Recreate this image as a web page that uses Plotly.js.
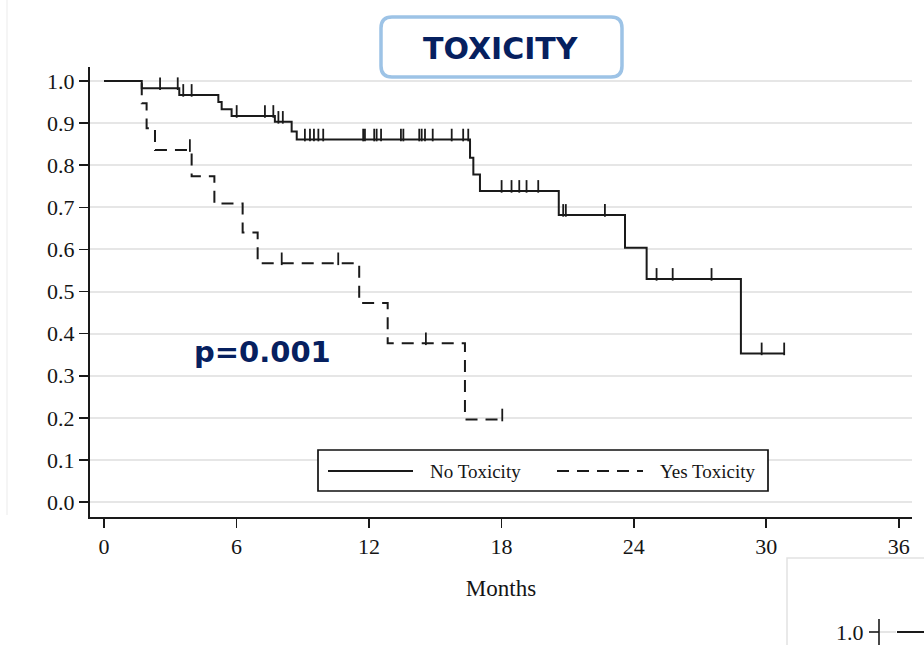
<!DOCTYPE html>
<html><head><meta charset="utf-8">
<script src="https://cdn.plot.ly/plotly-3.0.1.min.js"></script>
<style>html,body{margin:0;padding:0;background:#fff}#chart{width:924px;height:645px}</style>
</head><body><div id="chart"></div>
<script>
// ---------- DATA ----------
const noToxTimes = [0, 1.71, 3.41, 5.18, 5.33, 5.78, 7.74, 8.50, 8.73, 16.58, 16.73, 17.03, 20.60, 23.60, 24.58, 28.85];
const noToxSurv  = [1.0, 0.983, 0.967, 0.950, 0.933, 0.917, 0.903, 0.880, 0.861, 0.818, 0.778, 0.739, 0.682, 0.604, 0.530, 0.353];
const noToxEnd = 30.81;
const noToxCensor = [2.54, 3.34, 3.59, 3.97, 6.01, 7.29, 7.67, 7.90, 8.10, 9.10, 9.33, 9.51, 9.71, 9.93,
  11.74, 11.82, 12.24, 12.35, 12.55, 13.45, 13.56, 14.28, 14.39, 14.54, 14.89, 15.75, 16.27, 16.50,
  18.01, 18.46, 18.81, 19.14, 19.67, 20.80, 20.92, 22.69, 25.03, 25.76, 27.52, 29.79, 30.81];

const yesToxTimes = [0, 1.71, 1.93, 2.31, 3.97, 5.00, 6.28, 6.96, 11.56, 12.85, 16.35];
const yesToxSurv  = [1.0, 0.947, 0.888, 0.836, 0.774, 0.709, 0.640, 0.567, 0.473, 0.377, 0.196];
const yesToxEnd = 18.04;
const yesToxCensor = [3.89, 8.05, 10.61, 14.58, 18.04];

const xTickVals = [0, 6, 12, 18, 24, 30, 36];
const yTickVals = [0.0, 0.1, 0.2, 0.3, 0.4, 0.5, 0.6, 0.7, 0.8, 0.9, 1.0];
const seriesNames = ['No Toxicity', 'Yes Toxicity'];
const titleText = 'TOXICITY';
const pValueText = 'p=0.001';
const xAxisTitle = 'Months';
const fragmentLabel = '1.0';

// ---------- GEOMETRY ----------
const W = 924, H = 645, L = 90, R = 12, T = 67, B = 128;
const pw = W - L - R, ph = H - T - B;
const X = px => (px - L) / pw;
const Y = py => (H - B - py) / ph;
const xRange = [-0.634, 36.6];
const yRange = [-0.0356, 1.0333];
const halfTick = 4.5 * (yRange[1] - yRange[0]) / ph;

const ink = '#1a1a1a';
const txt = '#151515';
const navy = '#06205f';
const serif = 'Liberation Serif, Times New Roman, serif';

function survAt(times, surv, t) {
  let s = surv[0];
  for (let i = 0; i < times.length; i++) if (times[i] <= t) s = surv[i];
  return s;
}
function stepTrace(times, surv, end, name, dash) {
  return {
    type: 'scatter', mode: 'lines', name: name,
    x: times.concat([end]), y: surv.concat([surv[surv.length - 1]]),
    line: {shape: 'hv', color: ink, width: 2, dash: dash},
    hoverinfo: 'skip', showlegend: false
  };
}
function censorTrace(times, surv, cens, name) {
  return {
    type: 'scatter', mode: 'markers', name: name + ' censored',
    x: cens, y: cens.map(t => survAt(times, surv, t) + halfTick),
    marker: {symbol: 'line-ns', size: 9, color: ink, line: {width: 1.8, color: ink}},
    hoverinfo: 'skip', showlegend: false
  };
}

const data = [
  stepTrace(yesToxTimes, yesToxSurv, yesToxEnd, seriesNames[1], '12px,8px'),
  censorTrace(yesToxTimes, yesToxSurv, yesToxCensor, seriesNames[1]),
  stepTrace(noToxTimes, noToxSurv, noToxEnd, seriesNames[0], 'solid'),
  censorTrace(noToxTimes, noToxSurv, noToxCensor, seriesNames[0])
];

// rounded title box path in paper coords
function roundRect(x0, y0, x1, y1, r) {
  const p = (a, b) => X(a).toFixed(5) + ',' + Y(b).toFixed(5);
  return 'M' + p(x0 + r, y0) + ' L' + p(x1 - r, y0) + ' Q' + p(x1, y0) + ' ' + p(x1, y0 + r) +
    ' L' + p(x1, y1 - r) + ' Q' + p(x1, y1) + ' ' + p(x1 - r, y1) +
    ' L' + p(x0 + r, y1) + ' Q' + p(x0, y1) + ' ' + p(x0, y1 - r) +
    ' L' + p(x0, y0 + r) + ' Q' + p(x0, y0) + ' ' + p(x0 + r, y0) + ' Z';
}
const pl = (x0, y0, x1, y1, color, width, dash) => ({
  type: 'line', xref: 'paper', yref: 'paper', x0: X(x0), y0: Y(y0), x1: X(x1), y1: Y(y1),
  line: {color: color, width: width, dash: dash || 'solid'}, layer: 'above'
});

const shapes = [
  // white patch over part of the 0.1 grid line, and hide the 0.0 grid line
  {type: 'rect', xref: 'paper', yref: 'paper', x0: X(127), x1: X(292), y0: Y(490), y1: Y(447),
   fillcolor: '#fff', line: {width: 0}, layer: 'between'},
  {type: 'line', xref: 'paper', yref: 'y', x0: 0.005, x1: 1, y0: 0, y1: 0,
   line: {color: '#fff', width: 3}, layer: 'between'},
  // legend
  {type: 'rect', xref: 'paper', yref: 'paper', x0: X(318), x1: X(768), y0: Y(491), y1: Y(450),
   fillcolor: '#fff', line: {color: '#111', width: 1.7}, layer: 'above'},
  pl(328, 471, 413, 471, ink, 2),
  pl(557, 471, 643, 471, ink, 2, '12px,8px'),
  // title box
  {type: 'path', xref: 'paper', yref: 'paper', path: roundRect(381, 17, 622, 77, 11),
   fillcolor: '#fff', line: {color: '#9dc3e6', width: 3.5}, layer: 'above'},
  // faint outer frame at left
  pl(7, 0, 7, 515, '#eeeeee', 1.2),
  // fragment of another panel, bottom right
  {type: 'rect', xref: 'paper', yref: 'paper', x0: X(787), x1: X(940), y0: Y(660), y1: Y(558),
   fillcolor: 'rgba(0,0,0,0)', line: {color: '#e2e2e2', width: 1.5}, layer: 'above'},
  pl(879, 619, 879, 650, ink, 1.6),
  pl(869, 632, 879, 632, ink, 1.6),
  pl(880, 632, 896, 632, '#dddddd', 1.5),
  pl(897, 632, 930, 632, ink, 2)
];

const annotations = [
  {xref: 'paper', yref: 'paper', x: X(501), y: Y(48), text: titleText, showarrow: false,
   xanchor: 'center', yanchor: 'middle',
   font: {family: 'DejaVu Sans, Verdana, sans-serif', size: 30, color: navy, weight: 700}},
  {xref: 'paper', yref: 'paper', x: X(192), y: Y(352), text: pValueText, showarrow: false,
   xanchor: 'left', yanchor: 'middle',
   font: {family: 'DejaVu Sans, Verdana, sans-serif', size: 29, color: navy, weight: 700}},
  {xref: 'paper', yref: 'paper', x: X(428), y: Y(471), text: seriesNames[0], showarrow: false,
   xanchor: 'left', yanchor: 'middle', font: {family: serif, size: 19, color: txt}},
  {xref: 'paper', yref: 'paper', x: X(658), y: Y(471), text: seriesNames[1], showarrow: false,
   xanchor: 'left', yanchor: 'middle', font: {family: serif, size: 19, color: txt}},
  {xref: 'paper', yref: 'paper', x: X(866), y: Y(632), text: fragmentLabel, showarrow: false,
   xanchor: 'right', yanchor: 'middle', font: {family: serif, size: 22, color: txt}}
];

const layout = {
  width: W, height: H,
  margin: {l: L, r: R, t: T, b: B, pad: 0},
  paper_bgcolor: '#fff', plot_bgcolor: '#fff',
  showlegend: false,
  xaxis: {
    range: xRange, tickmode: 'array', tickvals: xTickVals,
    ticks: 'outside', ticklen: 9, tickwidth: 1.6, tickcolor: ink,
    showline: true, linecolor: ink, linewidth: 2, mirror: false,
    showgrid: false, zeroline: false,
    tickfont: {family: serif, size: 22, color: txt},
    title: {text: xAxisTitle, font: {family: serif, size: 23, color: txt}, standoff: 21}
  },
  yaxis: {
    range: yRange, tickmode: 'array', tickvals: yTickVals, tickformat: '.1f',
    ticks: 'outside', ticklen: 9, tickwidth: 1.6, tickcolor: ink,
    showline: true, linecolor: ink, linewidth: 2,
    showgrid: true, gridcolor: '#e6e6e6', gridwidth: 2, zeroline: false,
    tickfont: {family: serif, size: 22, color: txt}
  },
  shapes: shapes,
  annotations: annotations
};

Plotly.newPlot('chart', data, layout, {staticPlot: true, displayModeBar: false});
</script>
</body></html>
